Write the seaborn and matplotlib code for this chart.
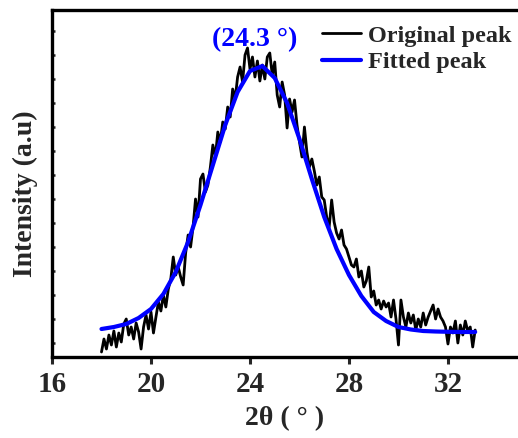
import numpy as np
import pandas as pd
import matplotlib
matplotlib.use("Agg")
import matplotlib.pyplot as plt
from matplotlib.ticker import MultipleLocator
import seaborn as sns

# XRD scan (2θ step 0.1°) and measured intensity, a.u.
two_theta = np.round(np.arange(18.0, 33.15, 0.1), 1)
intensity = [
    5, 18, 8, 22, 12, 26, 10, 24, 15, 33,
    38, 22, 30, 18, 34, 25, 8, 30, 42, 28,
    45, 24, 40, 55, 46, 62, 50, 68, 78, 100,
    82, 90, 80, 72, 104, 122, 110, 130, 158, 140,
    178, 183, 165, 172, 190, 212, 200, 225, 215, 235,
    228, 250, 240, 268, 258, 280, 290, 275, 302, 309,
    288, 300, 280, 296, 276, 292, 278, 300, 304, 282,
    295, 262, 250, 275, 262, 229, 258, 245, 257, 232,
    215, 200, 230, 205, 190, 198, 186, 172, 180, 160,
    157, 140, 130, 157, 135, 124, 118, 127, 112, 108,
    100, 92, 90, 98, 80, 86, 70, 76, 90, 60,
    66, 52, 57, 48, 56, 50, 54, 40, 57, 38,
    12, 57, 40, 30, 44, 34, 42, 27, 38, 30,
    44, 32, 40, 46, 52, 38, 48, 40, 36, 30,
    13, 30, 24, 36, 14, 32, 22, 36, 26, 30,
    10, 27,
]

# Fitted peak profile
fit_theta = [18.0, 18.5, 19.0, 19.5, 20.0, 20.5, 21.0, 21.5, 22.0, 22.5,
             23.0, 23.5, 24.0, 24.5, 25.0, 25.5, 26.0, 26.5, 27.0, 27.5,
             28.0, 28.5, 29.0, 29.5, 30.0, 30.5, 31.0, 31.5, 32.0, 32.5,
             33.0, 33.1]
fit_intensity = [28, 30, 33, 39, 48, 63, 85, 115, 152, 192,
                 232, 265, 286, 291, 279, 254, 218, 178, 140, 108,
                 82, 61, 45, 36, 30, 27.5, 26, 25.5, 25.2, 25,
                 25, 25]

peak_label = "(24.3 °)"
peak_pos = 24.3

raw = pd.DataFrame({"two_theta": two_theta, "intensity": intensity})
fit = pd.DataFrame({"two_theta": fit_theta, "intensity": fit_intensity})

sns.set_style("ticks")
plt.rcParams["font.family"] = ["Liberation Serif", "DejaVu Serif"]
plt.rcParams["font.weight"] = "bold"

fig = plt.figure(figsize=(5.18, 4.38), dpi=100)
ax = fig.add_axes([52 / 518, 81 / 438, 466 / 518, 347 / 438])

sns.lineplot(data=raw, x="two_theta", y="intensity", ax=ax, color="black",
             linewidth=2.0, label="Original peak")
sns.lineplot(data=fit, x="two_theta", y="intensity", ax=ax, color="#0000FF",
             linewidth=3.0, label="Fitted peak")

ax.set_xlim(16, 34.83)
ax.set_ylim(0, 347)
ax.xaxis.set_major_locator(MultipleLocator(4))
ax.yaxis.set_major_locator(MultipleLocator(24, offset=14))
ax.set_yticklabels([])

for side in ("left", "bottom", "top"):
    ax.spines[side].set_linewidth(2.4)
    ax.spines[side].set_color("black")
ax.spines["right"].set_visible(False)

ax.tick_params(axis="x", direction="out", length=5, width=2.2,
               labelsize=21, pad=5)
ax.tick_params(axis="y", direction="in", length=2.5, width=1.8,
               left=True, right=False, labelleft=False)
for lbl in ax.get_xticklabels():
    lbl.set_fontweight("bold")

ax.set_xlabel("2θ ( ° )", fontsize=20, fontweight="bold", labelpad=6)
ax.set_ylabel("Intensity (a.u)", fontsize=20, fontweight="bold")
ax.yaxis.set_label_coords(-0.031, 0.47)

ax.text(peak_pos - 0.1, 305, peak_label, color="#0000FF", fontsize=20,
        fontweight="bold", ha="center", va="bottom")

leg = ax.legend(loc="upper left", bbox_to_anchor=(0.549, 1.0), frameon=False,
                prop={"family": "Liberation Serif", "weight": "bold", "size": 17.5},
                handlelength=1.6, handletextpad=0.27, labelspacing=0.2,
                borderaxespad=0.2)

fig.savefig("out.png", dpi=100)
